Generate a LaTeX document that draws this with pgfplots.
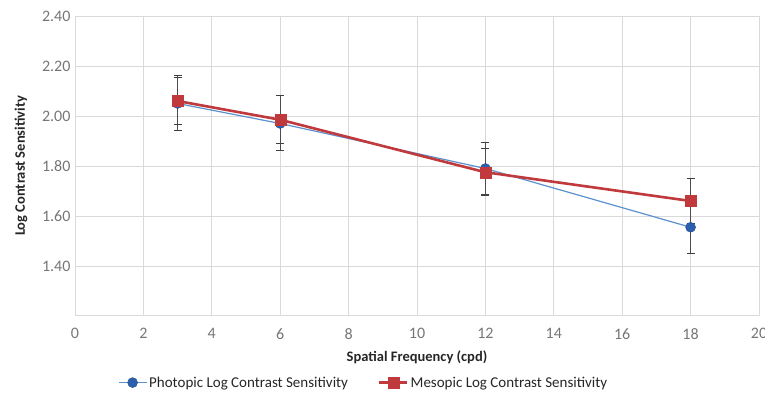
\documentclass[border=0pt]{standalone}
\usepackage{pgfplots}
\pgfplotsset{compat=1.18}
\usepackage{fontspec}
\setmainfont{Carlito}
\definecolor{gridc}{RGB}{217,217,217}
\definecolor{tickc}{RGB}{118,118,118}
\definecolor{photoline}{RGB}{91,145,205}
\definecolor{photomark}{RGB}{45,95,175}
\definecolor{mesored}{RGB}{192,57,60}
\begin{document}
\begin{tikzpicture}
\begin{axis}[
  name=ax,
  scale only axis, width=684pt, height=300pt,
  xmin=0, xmax=20, ymin=1.2, ymax=2.4,
  xtick={0,2,...,20},
  ytick={1.4,1.6,...,2.41},
  yticklabel style={xshift=-1pt, /pgf/number format/.cd, fixed, fixed zerofill, precision=2},
  /pgf/number format/assume math mode=true,
  grid=major,
  major grid style={gridc, line width=0.8pt},
  axis x line*=bottom, axis y line*=left,
  x axis line style={gridc, line width=1pt, -},
  y axis line style={draw=none},
  tick style={draw=none},
  ticklabel style={font=\fontsize{16}{19}\selectfont, text=tickc},
  xticklabel style={yshift=-9pt},
  xlabel={Spatial Frequency (cpd)},
  ylabel={Log Contrast Sensitivity},
  label style={font=\fontsize{14.5}{17}\selectfont\bfseries, text=black!85},
  xlabel style={yshift=-4pt},
  ylabel style={yshift=8pt},
  every axis plot/.append style={legend image code/.code={
    \draw[mark repeat=2,mark phase=2,#1] plot coordinates {(0pt,0pt)(14pt,0pt)(28pt,0pt)};}},
  legend columns=2,
  legend style={at={(0.422,-0.222)}, anchor=center, draw=none, fill=none,
    font=\fontsize{15}{18}\selectfont, text=black!85,
    nodes={inner xsep=2pt},
    /tikz/every even column/.append style={column sep=28pt}},
  legend cell align=left,
  clip=false,
]
\addplot[photoline, line width=1.2pt, mark=*, mark size=5pt,
  mark options={fill=photomark, draw=photomark!80!black, line width=0.4pt},
  error bars/.cd, y dir=both, y explicit,
  error bar style={black!70, line width=1pt},
  error mark options={rotate=90, mark size=4pt, black!75, line width=1pt}]
  coordinates {
  (3,2.05) +- (0,0.11)
  (6,1.97) +- (0,0.11)
  (12,1.79) +- (0,0.105)
  (18,1.555) +- (0,0.105)
  };
\addlegendentry{Photopic Log Contrast Sensitivity}
\addplot[mesored, line width=2.6pt, mark=square*, mark size=5.5pt,
  mark options={fill=mesored, draw=mesored, line width=0.4pt},
  error bars/.cd, y dir=both, y explicit,
  error bar style={black!70, line width=1pt},
  error mark options={rotate=90, mark size=4pt, black!75, line width=1pt}]
  coordinates {
  (3,2.06) +- (0,0.095)
  (6,1.985) +- (0,0.095)
  (12,1.775) +- (0,0.095)
  (18,1.66) +- (0,0.09)
  };
\addlegendentry{Mesopic Log Contrast Sensitivity}
\end{axis}
\pgfresetboundingbox
\useasboundingbox ([xshift=-75pt,yshift=-77pt]ax.south west) rectangle ([xshift=690pt,yshift=316pt]ax.south west);
\end{tikzpicture}
\end{document}
